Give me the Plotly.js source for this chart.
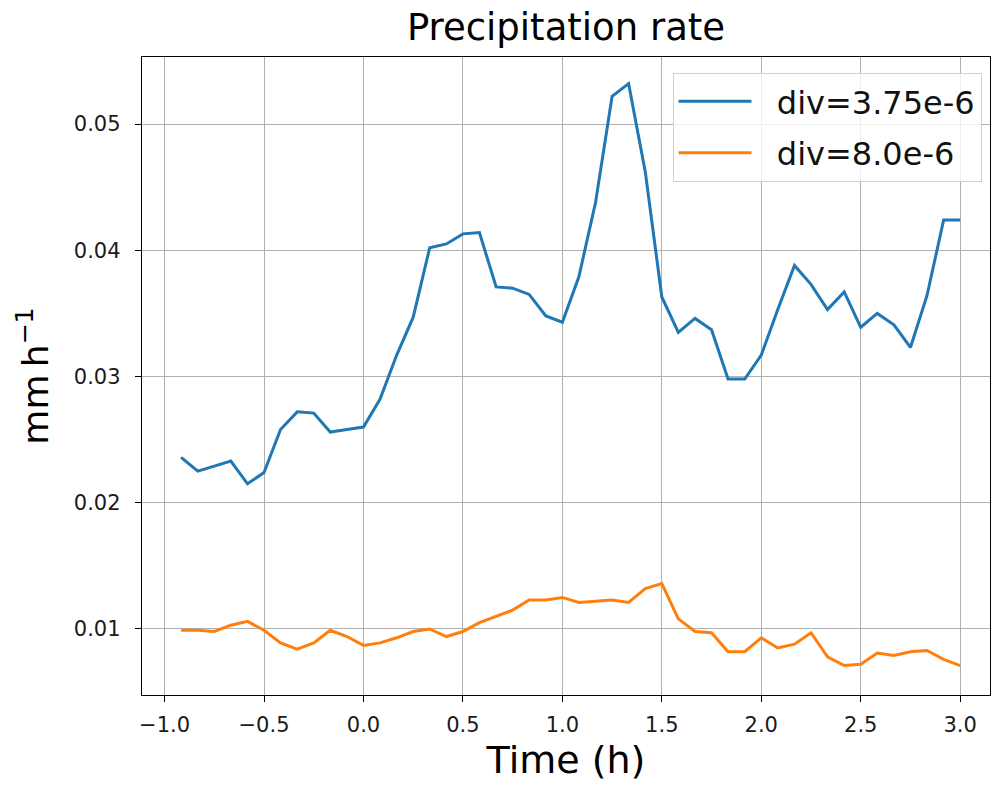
<!DOCTYPE html>
<html>
<head>
<meta charset="utf-8">
<script src="https://cdn.plot.ly/plotly-3.0.1.min.js"></script>
<style>html,body{margin:0;padding:0;background:#fff;}#chart{width:993px;height:787px;}</style>
</head>
<body>
<div id="chart"></div>
<script>
const timeHours = [-0.917, -0.833, -0.750, -0.667, -0.583, -0.500, -0.417, -0.333, -0.250, -0.167, -0.083, 0.000,
  0.083, 0.167, 0.250, 0.333, 0.417, 0.500, 0.583, 0.667, 0.750, 0.833, 0.917, 1.000,
  1.083, 1.167, 1.250, 1.333, 1.417, 1.500, 1.583, 1.667, 1.750, 1.833, 1.917, 2.000,
  2.083, 2.167, 2.250, 2.333, 2.417, 2.500, 2.583, 2.667, 2.750, 2.833, 2.917, 3.000];

const seriesNames = ["div=3.75e-6", "div=8.0e-6"];

const precipDiv375 = [0.0236, 0.0225, 0.0229, 0.0233, 0.0215, 0.0224, 0.0258, 0.0272, 0.0271, 0.0256, 0.0258, 0.0260,
  0.0282, 0.0317, 0.0347, 0.0402, 0.0405, 0.0413, 0.0414, 0.0371, 0.0370, 0.0365, 0.0348, 0.0343,
  0.0379, 0.0438, 0.0522, 0.0532, 0.0462, 0.0363, 0.0335, 0.0346, 0.0337, 0.0298, 0.0298, 0.0317,
  0.0353, 0.0388, 0.0373, 0.0353, 0.0367, 0.0339, 0.0350, 0.0341, 0.0323, 0.0364, 0.0424, 0.0424];

const precipDiv80 = [0.0099, 0.0099, 0.0098, 0.0103, 0.0106, 0.0099, 0.0089, 0.0084, 0.0089, 0.0099, 0.0094, 0.0087,
  0.0089, 0.0093, 0.0098, 0.0100, 0.0094, 0.0098, 0.0105, 0.0110, 0.0115, 0.0123, 0.0123, 0.0125,
  0.0121, 0.0122, 0.0123, 0.0121, 0.0132, 0.0136, 0.0108, 0.0098, 0.0097, 0.0082, 0.0082, 0.0093,
  0.0085, 0.0088, 0.0097, 0.0078, 0.0071, 0.0072, 0.0081, 0.0079, 0.0082, 0.0083, 0.0076, 0.0071];

const xTickVals = [-1.0, -0.5, 0.0, 0.5, 1.0, 1.5, 2.0, 2.5, 3.0];
const yTickVals = [0.01, 0.02, 0.03, 0.04, 0.05];

const FONT = "DejaVu Sans, sans-serif";
const LEGEND_GAP = "\u00a0\u00a0";

const traces = [
  {x: timeHours, y: precipDiv375, name: LEGEND_GAP + seriesNames[0], legendgroup: "a", type: "scatter", mode: "lines",
   line: {color: "#1f77b4", width: 3}},
  {x: timeHours, y: precipDiv80, name: LEGEND_GAP + seriesNames[1], legendgroup: "b", type: "scatter", mode: "lines",
   line: {color: "#ff7f0e", width: 3}}
];

const layout = {
  width: 993, height: 787,
  paper_bgcolor: "#ffffff", plot_bgcolor: "#ffffff",
  margin: {l: 142, r: 3, t: 57, b: 92},
  font: {family: FONT, color: "#000"},
  title: {text: "Precipitation rate", font: {family: FONT, size: 37, color: "#000"},
          xref: "paper", x: 0.5, xanchor: "center", yref: "container", y: 0.966, yanchor: "middle"},
  showlegend: true,
  legend: {x: 0.990, y: 0.975, xanchor: "right", yanchor: "top",
           bgcolor: "rgba(255,255,255,0.8)", bordercolor: "#d0d0d0", borderwidth: 1,
           font: {family: FONT, size: 32, color: "#111"}, itemwidth: 73, tracegroupgap: 7},
  xaxis: {
    range: [-1.1135, 3.15], tickvals: xTickVals, tickformat: ".1f",
    showgrid: true, gridcolor: "#b0b0b0", gridwidth: 1, zeroline: false,
    showline: true, linecolor: "#000", linewidth: 1.2, mirror: true,
    ticks: "outside", ticklen: 6, tickwidth: 1, tickcolor: "#000", ticklabelstandoff: 5,
    tickfont: {family: FONT, size: 21, color: "#1a1a1a"},
    title: {text: "Time (h)", font: {family: FONT, size: 38, color: "#000"}, standoff: 10}
  },
  yaxis: {
    range: [0.00477, 0.05531], tickvals: yTickVals, tickformat: ".2f",
    showgrid: true, gridcolor: "#b0b0b0", gridwidth: 1, zeroline: false,
    showline: true, linecolor: "#000", linewidth: 1.2, mirror: true,
    ticks: "outside", ticklen: 6, tickwidth: 1, tickcolor: "#000", ticklabelstandoff: 10,
    tickfont: {family: FONT, size: 21, color: "#1a1a1a"},
    title: {text: "mm\u2009h<sup>−1</sup>", font: {family: FONT, size: 36, color: "#000"}, standoff: 14}
  }
};

Plotly.newPlot("chart", traces, layout, {displayModeBar: false, staticPlot: true});
</script>
</body>
</html>
